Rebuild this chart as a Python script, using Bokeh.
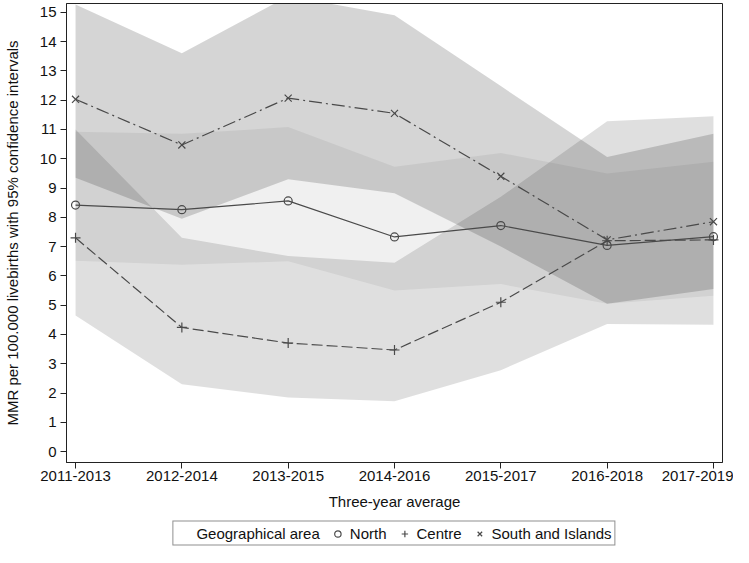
from bokeh.plotting import figure
from bokeh.models import Range1d, FixedTicker, Legend, LegendItem, ColumnDataSource
from bokeh.layouts import column
from bokeh.embed import file_html
from bokeh.resources import INLINE

periods = ["2011-2013", "2012-2014", "2013-2015", "2014-2016", "2015-2017", "2016-2018", "2017-2019"]

north = [8.42, 8.26, 8.56, 7.33, 7.72, 7.04, 7.34]
north_lo = [6.52, 6.38, 6.50, 5.50, 5.72, 5.05, 5.32]
north_hi = [10.92, 10.85, 11.08, 9.73, 10.20, 9.50, 9.90]

centre = [7.30, 4.24, 3.71, 3.47, 5.10, 7.20, 7.23]
centre_lo = [4.65, 2.30, 1.85, 1.72, 2.78, 4.36, 4.33]
centre_hi = [11.00, 7.30, 6.68, 6.45, 8.70, 11.28, 11.45]

south = [12.03, 10.47, 12.07, 11.55, 9.40, 7.23, 7.85]
south_lo = [9.35, 7.95, 9.30, 8.82, 7.00, 5.05, 5.55]
south_hi = [15.27, 13.60, 15.55, 14.90, 12.48, 10.06, 10.85]

y_ticks = list(range(0, 16))
legend_title = "Geographical area"
series_names = ["North", "Centre", "South and Islands"]

x = list(range(len(periods)))
src = ColumnDataSource(dict(x=x, north=north, north_lo=north_lo, north_hi=north_hi,
                            centre=centre, centre_lo=centre_lo, centre_hi=centre_hi,
                            south=south, south_lo=south_lo, south_hi=south_hi))

FONT = "Liberation Sans"
FS = "15px"
INK = "#4a4a4a"
TXT = "#111111"

p = figure(width=733, height=512, output_backend="svg", toolbar_location=None,
           x_range=Range1d(-0.085, 6.085), y_range=Range1d(-0.37, 15.3),
           min_border_left=64, min_border_right=11, min_border_top=3, min_border_bottom=0)

p.xgrid.visible = False
p.ygrid.visible = False
p.outline_line_color = "#222222"
p.outline_line_width = 1
p.background_fill_color = "white"

# confidence bands
p.varea(x="x", y1="north_lo", y2="north_hi", source=src, fill_color="black", fill_alpha=0.06)
p.varea(x="x", y1="centre_lo", y2="centre_hi", source=src, fill_color="black", fill_alpha=0.125)
p.varea(x="x", y1="south_lo", y2="south_hi", source=src, fill_color="black", fill_alpha=0.165)

# lines
p.line(x="x", y="north", source=src, line_color=INK, line_width=1.2)
p.line(x="x", y="centre", source=src, line_color=INK, line_width=1.2, line_dash="11 4")
p.line(x="x", y="south", source=src, line_color=INK, line_width=1.2, line_dash="13 4 2 4")

p.scatter(x="x", y="north", source=src, marker="circle", size=8,
          line_color=INK, fill_alpha=0, line_width=1.2)
p.scatter(x="x", y="centre", source=src, marker="cross", size=10,
          line_color=INK, line_width=1.2)
p.scatter(x="x", y="south", source=src, marker="x", size=10,
          line_color=INK, line_width=1.2)

# axes
for ax in (p.xaxis[0], p.yaxis[0]):
    ax.axis_line_color = "#222222"
    ax.major_tick_line_color = "#222222"
    ax.minor_tick_line_color = None
    ax.major_tick_in = 0
    ax.major_tick_out = 6
    ax.major_label_text_font = FONT
    ax.major_label_text_font_size = FS
    ax.major_label_text_color = TXT
    ax.axis_label_text_font = FONT
    ax.axis_label_text_font_size = FS
    ax.axis_label_text_font_style = "normal"
    ax.axis_label_text_color = TXT

p.xaxis.ticker = FixedTicker(ticks=x)
p.xaxis.major_label_overrides = {i: lbl for i, lbl in zip(x, periods)}
p.xaxis.major_label_standoff = 2
p.xaxis.axis_label = "Three-year average"
p.xaxis.axis_label_standoff = 9

p.yaxis.ticker = FixedTicker(ticks=y_ticks)
p.yaxis.major_label_standoff = 4
p.yaxis.axis_label = "MMR per 100.000 livebirths with 95% confidence intervals"
p.yaxis.axis_label_standoff = 16

# legend in its own strip
lf = figure(width=733, height=35, output_backend="svg", toolbar_location=None,
            x_range=Range1d(0, 1), y_range=Range1d(0, 1),
            min_border_left=64, min_border_right=11, min_border_top=8, min_border_bottom=1)
lf.xaxis.visible = False
lf.yaxis.visible = False
lf.xgrid.visible = False
lf.ygrid.visible = False
lf.outline_line_color = None

off = dict(x=[-10], y=[-10])
d0 = lf.scatter(x="x", y="y", source=ColumnDataSource(off), marker="circle", size=1, alpha=0)
l1 = lf.scatter(x="x", y="y", source=ColumnDataSource(off), marker="circle", size=8,
                line_color=INK, fill_alpha=0, line_width=1.2)
l2 = lf.scatter(x="x", y="y", source=ColumnDataSource(off), marker="cross", size=10,
                line_color=INK, line_width=1.2)
l3 = lf.scatter(x="x", y="y", source=ColumnDataSource(off), marker="x", size=10,
                line_color=INK, line_width=1.2)

legend = Legend(items=[
    LegendItem(label=legend_title, renderers=[d0]),
    LegendItem(label=series_names[0], renderers=[l1]),
    LegendItem(label=series_names[1], renderers=[l2]),
    LegendItem(label=series_names[2], renderers=[l3]),
], orientation="horizontal", location="center")
legend.label_text_font = FONT
legend.label_text_font_size = FS
legend.label_text_color = TXT
legend.glyph_width = 16
legend.glyph_height = 16
legend.label_height = 16
legend.label_standoff = 4
legend.spacing = 10
legend.padding = 3
legend.margin = 0
legend.border_line_color = "#222222"
legend.border_line_width = 1
legend.background_fill_color = "white"
legend.background_fill_alpha = 1
lf.add_layout(legend, "center")

layout = column(p, lf, spacing=0)
open("out.html", "w").write(file_html(layout, INLINE))
